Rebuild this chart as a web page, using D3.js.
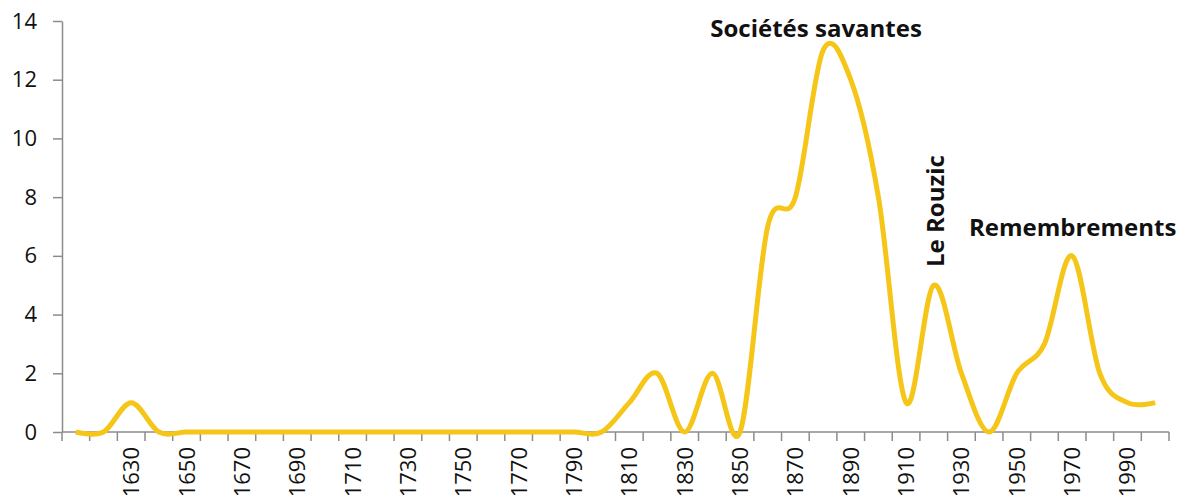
<!DOCTYPE html>
<html>
<head>
<meta charset="utf-8">
<script src="https://cdn.jsdelivr.net/npm/d3@7"></script>
<style>
  body { margin: 0; background: #fff; }
  svg { display: block; }
  .axis path, .axis line { stroke: #8c8c8c; stroke-width: 1.5; }
  .axis text { font-family: "Open Sans", sans-serif; fill: #111; }
  .note { font-family: "Open Sans", sans-serif; font-weight: bold; fill: #111; }
</style>
</head>
<body>
<script>
document.addEventListener("DOMContentLoaded", function(event) {

  // decades, 1610 -> 2000
  var years = [1610,1620,1630,1640,1650,1660,1670,1680,1690,1700,
               1710,1720,1730,1740,1750,1760,1770,1780,1790,1800,
               1810,1820,1830,1840,1850,1860,1870,1880,1890,1900,
               1910,1920,1930,1940,1950,1960,1970,1980,1990,2000];
  var counts = [0,0,1,0,0,0,0,0,0,0,
                0,0,0,0,0,0,0,0,0,0,
                1,2,0,2,0,7,8,13,12,8,
                1,5,2,0,2,3,6,2,1,1];
  var yTicks = [0,2,4,6,8,10,12,14];
  var xLabels = [1630,1650,1670,1690,1710,1730,1750,1770,1790,
                 1810,1830,1850,1870,1890,1910,1930,1950,1970,1990];
  var noteTexts = ["Sociétés savantes", "Le Rouzic", "Remembrements"];
  var noteYears = [1880, 1920, 1970];

  var W = 1186, H = 501;
  var margin = {top: 21, right: 17, bottom: 69, left: 62};
  var width = W - margin.left - margin.right,
      height = H - margin.top - margin.bottom;

  var svg = d3.select("body").append("svg")
      .attr("width", W)
      .attr("height", H)
    .append("g")
      .attr("transform", "translate(" + margin.left + "," + margin.top + ")");

  var x = d3.scaleBand().domain(years).range([0, width]).paddingInner(0).paddingOuter(0);
  var y = d3.scaleLinear().domain([0, 14]).range([height, 0]);
  var cx = function(yr) { return x(yr) + x.bandwidth() / 2; };

  // y axis
  var yAxis = svg.append("g").attr("class", "axis")
      .call(d3.axisLeft(y).tickValues(yTicks).tickSize(9).tickSizeOuter(0).tickPadding(16));
  yAxis.selectAll("text").style("font-size", "22px");

  // x axis line + ticks between categories
  var xAxis = svg.append("g").attr("class", "axis")
      .attr("transform", "translate(0," + height + ")");
  xAxis.append("path").attr("d", "M0,0H" + width);
  var bounds = years.map(function(d) { return x(d); }).concat([width]);
  xAxis.selectAll(".tk").data(bounds).enter().append("line")
      .attr("class", "tk")
      .attr("x1", function(d) { return d; }).attr("x2", function(d) { return d; })
      .attr("y1", 0).attr("y2", 9);
  xAxis.selectAll(".lbl").data(xLabels).enter().append("text")
      .attr("class", "lbl")
      .attr("transform", function(d) { return "translate(" + (cx(d) + 8) + ",15) rotate(-90)"; })
      .attr("text-anchor", "end")
      .style("font-size", "22px")
      .text(function(d) { return d; });

  // the smoothed line
  var line = d3.line()
      .x(function(d, i) { return cx(years[i]); })
      .y(function(d) { return y(d); })
      .curve(d3.curveCatmullRom.alpha(0));

  svg.append("path")
      .datum(counts)
      .attr("fill", "none")
      .attr("stroke", "#f5c518")
      .attr("stroke-width", 5)
      .attr("stroke-linejoin", "round")
      .attr("d", line);

  // annotations
  svg.append("text").attr("class", "note")
      .attr("x", cx(noteYears[0]) - 7)
      .attr("y", 16)
      .attr("text-anchor", "middle")
      .style("font-size", "24px")
      .text(noteTexts[0]);

  svg.append("text").attr("class", "note")
      .attr("transform", "translate(" + (cx(noteYears[1]) + 10) + "," + (246) + ") rotate(-90)")
      .attr("text-anchor", "start")
      .style("font-size", "24px")
      .text(noteTexts[1]);

  svg.append("text").attr("class", "note")
      .attr("x", cx(noteYears[2]) + 0.5)
      .attr("y", 215)
      .attr("text-anchor", "middle")
      .style("font-size", "24px")
      .text(noteTexts[2]);

});
</script>
</body>
</html>
